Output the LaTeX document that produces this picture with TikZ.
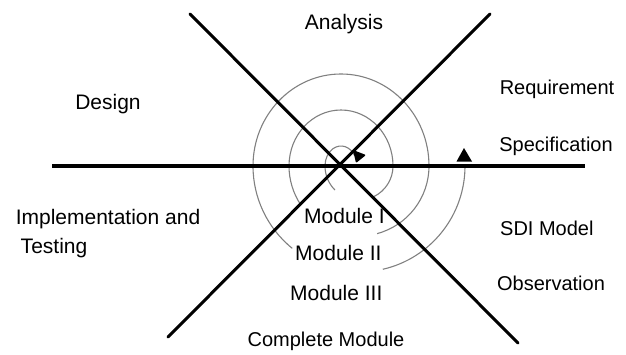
\documentclass[tikz,border=0pt]{standalone}
\usepackage{fontspec}
\setmainfont{Liberation Sans}
\begin{document}
\begin{tikzpicture}[x=1pt,y=1pt,
  lbl/.style={inner sep=0pt,font=\fontsize{21}{24}\selectfont},
  slbl/.style={inner sep=0pt,font=\fontsize{20}{24}\selectfont},
  axis/.style={line width=3.4pt,black},
  diag/.style={line width=3pt,black,line cap=round},
  spir/.style={line width=1.1pt,black!50}]
\useasboundingbox (0,0) rectangle (626,354);
% spiral
\coordinate (A) at (341,188);
\coordinate (B) at (359,188);
\draw[spir] ([shift={(30:16 and 20)}]A) arc[start angle=30,end angle=180,x radius=16,y radius=20];
\draw[spir] ([shift={(180:34)}]B) arc[start angle=180,end angle=225,radius=34];
\draw[spir] ([shift={(296:34)}]B) arc[start angle=296,end angle=360,radius=34];
\draw[spir] ([shift={(0:52 and 56)}]A) arc[start angle=0,end angle=180,x radius=52,y radius=56];
\draw[spir] ([shift={(180:70)}]B) arc[start angle=180,end angle=214,radius=70];
\draw[spir] ([shift={(285:70)}]B) arc[start angle=285,end angle=360,radius=70];
\draw[spir] ([shift={(0:88 and 92)}]A) arc[start angle=0,end angle=180,x radius=88,y radius=92];
\draw[spir] ([shift={(180:106)}]B) arc[start angle=180,end angle=231,radius=106];
\draw[spir] ([shift={(283:106)}]B) arc[start angle=283,end angle=360,radius=106];
% arrow marks
\fill[black, rounded corners=1pt] (353,204) -- (366,199) -- (356,191) -- cycle;
\fill[black] (464,206) -- (472,192.5) -- (456.5,192.5) -- cycle;
% lines
\coordinate (hl) at (52,188);
\coordinate (hr) at (585,188);
\coordinate (d1a) at (190,340);
\coordinate (d1b) at (518,11);
\coordinate (d2a) at (490,340);
\coordinate (d2b) at (168,17);
\draw[axis] (hl) -- (hr);
\draw[diag] (d1a) -- (d1b);
\draw[diag] (d2a) -- (d2b);
% labels
\node[lbl,anchor=base] (an) at (344,324) {Analysis};
\node[lbl,anchor=base] (de) at (108,244) {Design};
\node[slbl,anchor=base] (rq) at (557,259) {Requirement};
\node[slbl,anchor=base] (sp) at (556,203) {Specification};
\node[lbl,anchor=base] (im) at (108,130) {Implementation and};
\node[lbl,anchor=base] (te) at (54,101) {Testing};
\node[slbl,anchor=base west] (sd) at (500,119) {SDI Model};
\node[slbl,anchor=base] (ob) at (551,64) {Observation};
\node[lbl,anchor=base west] (m1) at (304,131) {Module I};
\node[lbl,anchor=base west] (m2) at (295,94) {Module II};
\node[lbl,anchor=base west] (m3) at (290,54) {Module III};
\node[slbl,anchor=base] (cm) at (326,8) {Complete Module};
\end{tikzpicture}
\end{document}
